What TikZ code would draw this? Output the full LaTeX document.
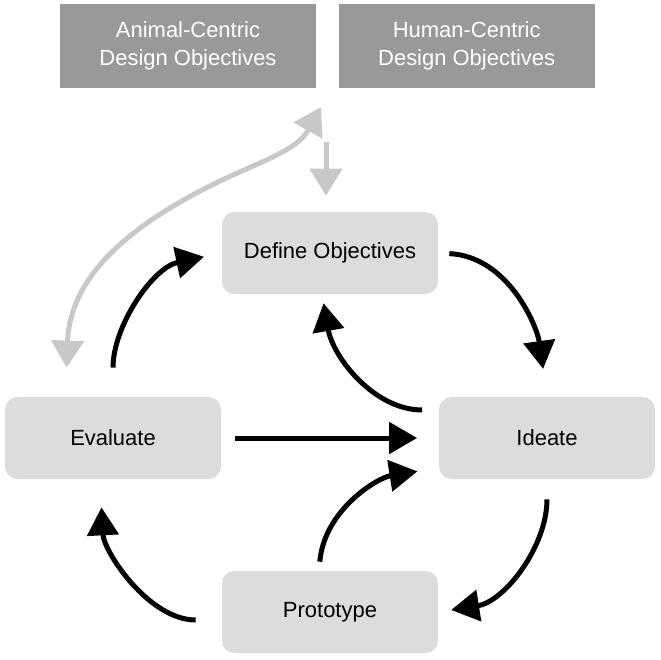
\documentclass[tikz,border=0pt]{standalone}
\usepackage{fontspec}
\setmainfont{Liberation Sans}
\usetikzlibrary{positioning,arrows.meta}

\definecolor{goalgray}{RGB}{153,153,153}
\definecolor{stagegray}{RGB}{220,220,220}
\definecolor{linkgray}{RGB}{200,200,200}

\begin{document}
\begin{tikzpicture}[%
    >={Triangle[length=5.6mm,width=6.2mm]}, % Big solid heads
    node distance=3.7cm and 4.34cm,         % Grid spacing of the cycle
    font=\fontsize{12.5}{15.6}\selectfont,
    ]
% -------------------------------------------------
% Box and connector styles
\tikzset{
  base/.style={align=center, inner sep=0pt},
  stage/.style={base, on grid, fill=stagegray, rounded corners=0.25cm,
    minimum width=4.32cm, minimum height=1.64cm},
  goal/.style={base, fill=goalgray, text=white,
    minimum width=5.12cm, minimum height=1.68cm},
  % Connector line styles
  flow/.style={->, line width=0.1cm},
  feedback/.style={flow, draw=linkgray, >={Triangle[length=5.4mm,width=6.4mm]}},
}
\useasboundingbox (0,0) rectangle (13.22,13.18);
% -------------------------------------------------
% The design cycle
\node [stage] (def) at (6.6,8.12) {Define Objectives};
\node [stage, below left=of def] (eval) {Evaluate};
\node [stage, below right=of def] (ide) {Ideate};
\node [stage, below right=3.48cm and 4.34cm of eval] (proto) {Prototype};

% Objective sources on top
\node [goal] (animal) at (3.76,12.26) {Animal-Centric\\Design Objectives};
\node [goal, right=0.44cm of animal] (human) {Human-Centric\\Design Objectives};
\coordinate (split) at (6.52,10.34);
\coordinate (up) at (6.42,11.04);

% -------------------------------------------------
% Black cycle arrows
\draw [flow, shorten <=0.58cm, shorten >=0.36cm]
  (eval.north) to[out=90, in=192] (def.west);
\draw [flow, shorten <=0.22cm, shorten >=0.56cm]
  (def.east) to[out=-3, in=98] (ide.north);
\draw [flow, shorten <=0.33cm, shorten >=0.18cm]
  ([yshift=0.56cm]ide.west) to[out=180, in=-80] ([xshift=-0.16cm]def.south);
\draw [flow, shorten <=0.28cm, shorten >=0.43cm] (eval.east) -- (ide.west);
\draw [flow, shorten <=0.18cm, shorten >=0.43cm]
  ([xshift=-0.22cm]proto.north) to[out=85, in=189] ([yshift=-0.6cm]ide.west);
\draw [flow, shorten <=0.4cm, shorten >=0.26cm]
  (ide.south) to[out=-90, in=9] (proto.east);
\draw [flow, shorten <=0.52cm, shorten >=0.56cm]
  ([yshift=-0.16cm]proto.west) to[out=180, in=-87] ([xshift=-0.26cm]eval.south);

% Gray links to the objectives
\draw [feedback, shorten >=0.32cm] (split) -- (split |- def.north);
\draw [feedback, <->]
  ([xshift=1.24cm, yshift=0.58cm]eval.north west) to[out=88, in=206]
  (4.34,9.53) to[out=26, in=241] (up);
% -------------------------------------------------
\end{tikzpicture}
\end{document}
